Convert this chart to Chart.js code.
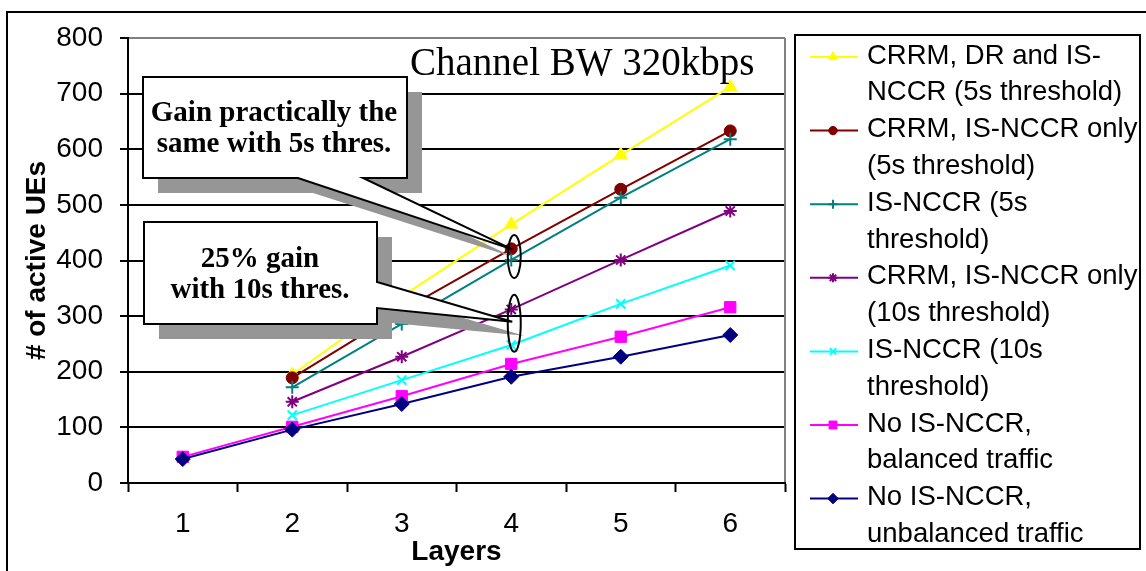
<!DOCTYPE html>
<html><head><meta charset="utf-8">
<script src="https://cdn.jsdelivr.net/npm/chart.js@4.4.1/dist/chart.umd.min.js"></script>
<style>html,body{margin:0;padding:0;background:#fff;}#wrap{width:1146px;height:571px;position:relative;}</style>
</head><body><div id="wrap"><canvas id="c" width="1146" height="571"></canvas></div>
<script>
// ---- data ----
const layers = ['1', '2', '3', '4', '5', '6'];
const crrmDrIsnccr5s   = [null, 195, 335, 465, 590, 712];
const crrmIsnccr5s     = [null, 189, 310, 421, 528, 633];
const isnccr5s         = [null, 172, 286, 401, 513, 618];
const crrmIsnccr10s    = [null, 146, 227, 312, 401, 489];
const isnccr10s        = [null, 122, 185, 248, 322, 391];
const noIsnccrBalanced   = [47, 101, 156, 214, 263, 316];
const noIsnccrUnbalanced = [43, 96, 142, 191, 227, 266];
const yMin = 0, yMax = 800, yStep = 100;
const legendLines = [
  ['CRRM, DR and IS-', 'NCCR (5s threshold)'],
  ['CRRM, IS-NCCR only', '(5s threshold)'],
  ['IS-NCCR (5s', 'threshold)'],
  ['CRRM, IS-NCCR only', '(10s threshold)'],
  ['IS-NCCR (10s', 'threshold)'],
  ['No IS-NCCR,', 'balanced traffic'],
  ['No IS-NCCR,', 'unbalanced traffic']
];
const chartTitle = 'Channel BW 320kbps';
const yTitle = '# of active UEs';
const xTitle = 'Layers';
const callout1Text = ['Gain practically the', 'same with 5s thres.'];
const callout2Text = ['25% gain', 'with 10s thres.'];
const callout1Target = 420, callout2Target = 290;   // values pointed at, layer 4
const ellipse1Center = 407, ellipse2Center = 287;

const SANS = "'Liberation Sans', Arial, sans-serif";
const SERIF = "'Liberation Serif', 'Times New Roman', serif";

function ds(label, data, color, style, radius, bw, order) {
  return { label, data, borderColor: color, backgroundColor: color,
    pointBackgroundColor: color, pointBorderColor: color,
    pointStyle: style, pointRadius: radius, pointBorderWidth: bw,
    borderWidth: 2, tension: 0, order, pointHoverRadius: radius };
}
const datasets = [
  ds(legendLines[0].join(' '), crrmDrIsnccr5s, '#FFFF00', 'triangle', 7.5, 1, 6),
  ds(legendLines[1].join(' '), crrmIsnccr5s, '#800000', 'circle', 6, 1, 5),
  ds(legendLines[2].join(' '), isnccr5s, '#008080', 'cross', 6.5, 2, 4),
  ds(legendLines[3].join(' '), crrmIsnccr10s, '#800080', 'star', 6.5, 2, 3),
  ds(legendLines[4].join(' '), isnccr10s, '#00FFFF', 'crossRot', 6.5, 2, 2),
  ds(legendLines[5].join(' '), noIsnccrBalanced, '#FF00FF', 'rect', 8, 1, 1),
  ds(legendLines[6].join(' '), noIsnccrUnbalanced, '#000080', 'rectRot', 7.5, 1, 0)
];

const decor = {
  id: 'decor',
  beforeDraw(chart) {
    const ctx = chart.ctx;
    ctx.save();
    ctx.fillStyle = '#fff';
    ctx.fillRect(0, 0, chart.width, chart.height);
    ctx.strokeStyle = '#000'; ctx.lineWidth = 2;
    ctx.strokeRect(7, 12, chart.width + 20, chart.height + 20);
    ctx.restore();
  },
  afterDraw(chart) {
    const ctx = chart.ctx, a = chart.chartArea;
    const xs = chart.scales.x, ys = chart.scales.y;
    ctx.save();
    // plot border right (gray)
    ctx.strokeStyle = '#808080'; ctx.lineWidth = 2;
    ctx.beginPath(); ctx.moveTo(a.right, a.top); ctx.lineTo(a.right, a.bottom - 1); ctx.stroke();

    // title
    ctx.fillStyle = '#000';
    ctx.font = '39px ' + SERIF;
    ctx.textAlign = 'left'; ctx.textBaseline = 'alphabetic';
    ctx.fillText(chartTitle, 410, 75);

    const px4 = xs.getPixelForValue(3);
    // callouts
    function callout(poly, shadowPoly, lines, cx, baselines) {
      ctx.fillStyle = '#969696';
      ctx.beginPath();
      shadowPoly.forEach((p, i) => i ? ctx.lineTo(p[0], p[1]) : ctx.moveTo(p[0], p[1]));
      ctx.closePath(); ctx.fill();
      ctx.fillStyle = '#fff'; ctx.strokeStyle = '#000'; ctx.lineWidth = 2; ctx.lineJoin = 'miter';
      ctx.beginPath();
      poly.forEach((p, i) => i ? ctx.lineTo(p[0], p[1]) : ctx.moveTo(p[0], p[1]));
      ctx.closePath(); ctx.fill(); ctx.stroke();
      ctx.fillStyle = '#000';
      ctx.font = 'bold 29px ' + SERIF;
      ctx.textAlign = 'center'; ctx.textBaseline = 'alphabetic';
      lines.forEach((t, i) => ctx.fillText(t, cx, baselines[i]));
    }
    const t1 = [px4 + 1, ys.getPixelForValue(callout1Target)];
    const b1 = {l: 143, t: 77, r: 407, b: 178, p1: 298, p2: 363};
    const poly1 = [[b1.l, b1.t], [b1.r, b1.t], [b1.r, b1.b], [b1.p2, b1.b], t1, [b1.p1, b1.b], [b1.l, b1.b]];
    const sh1 = [[b1.l + 15, b1.t + 15], [b1.r + 15, b1.t + 15], [b1.r + 15, b1.b + 15], [b1.p2 + 15, b1.b + 15], [t1[0] + 2, t1[1] + 8], [b1.p1 + 15, b1.b + 15], [b1.l + 15, b1.b + 15]];
    callout(poly1, sh1, callout1Text, 274, [121, 152]);

    const t2 = [px4 + 1, ys.getPixelForValue(callout2Target)];
    const b2 = {l: 144, t: 222, r: 377, b: 324, q1: 282, q2: 308};
    const poly2 = [[b2.l, b2.t], [b2.r, b2.t], [b2.r, b2.q1], t2, [b2.r, b2.q2], [b2.r, b2.b], [b2.l, b2.b]];
    const sh2 = [[b2.l + 15, b2.t + 15], [b2.r + 15, b2.t + 15], [b2.r + 15, b2.q1 + 15], [t2[0] + 12, t2[1] + 14], [b2.r + 15, b2.q2 + 15], [b2.r + 15, b2.b + 15], [b2.l + 15, b2.b + 15]];
    callout(poly2, sh2, callout2Text, 260, [267, 298]);

    // ellipses
    ctx.strokeStyle = '#000'; ctx.lineWidth = 2;
    ctx.beginPath(); ctx.ellipse(px4 + 3, ys.getPixelForValue(ellipse1Center), 6.5, 21.5, 0, 0, Math.PI * 2); ctx.stroke();
    ctx.beginPath(); ctx.ellipse(px4 + 3, ys.getPixelForValue(ellipse2Center), 6.5, 28.5, 0, 0, Math.PI * 2); ctx.stroke();

    // legend
    ctx.strokeStyle = '#000'; ctx.lineWidth = 2;
    ctx.strokeRect(795, 35, 345, 514);
    ctx.font = '27.5px ' + SANS;
    ctx.textAlign = 'left'; ctx.textBaseline = 'middle';
    const lh = 36.8;
    let row = 0;
    datasets.forEach((d, i) => {
      const y0 = 56 + row * lh;
      ctx.strokeStyle = d.borderColor; ctx.lineWidth = 2;
      ctx.beginPath(); ctx.moveTo(810, y0 + 1); ctx.lineTo(858, y0 + 1); ctx.stroke();
      ctx.fillStyle = d.borderColor; ctx.strokeStyle = d.borderColor;
      ctx.lineWidth = d.pointBorderWidth;
      Chart.helpers.drawPoint(ctx, {pointStyle: d.pointStyle, rotation: 0, radius: d.pointRadius * 0.7, borderWidth: d.pointBorderWidth}, 833, y0 + 1);
      ctx.fillStyle = '#000';
      legendLines[i].forEach((t, j) => { ctx.fillText(t, 867, y0 + j * lh); });
      row += legendLines[i].length;
    });
    ctx.restore();
  }
};

new Chart(document.getElementById('c'), {
  type: 'line',
  data: { labels: layers, datasets },
  options: {
    responsive: false, animation: false, devicePixelRatio: 1,
    layout: { padding: { left: 0, top: 38, right: 361, bottom: 0 } },
    plugins: { legend: { display: false }, tooltip: { enabled: false }, title: { display: false } },
    scales: {
      x: {
        type: 'category', offset: true,
        afterFit: (s) => { s.height = 88; },
        grid: { offset: true, drawOnChartArea: false, drawTicks: true, tickLength: 9, tickColor: '#000', tickWidth: 2 },
        border: { display: true, color: '#000', width: 2 },
        ticks: { color: '#000', font: { family: SANS, size: 28 }, padding: 15, maxRotation: 0 },
        title: { display: true, text: xTitle, color: '#000', font: { family: SANS, size: 28, weight: 'bold' }, padding: { top: 0, bottom: 2 } }
      },
      y: {
        min: yMin, max: yMax,
        afterFit: (s) => { s.width = 128; },
        grid: { color: (c) => (c.tick && c.tick.value === yMax ? '#808080' : '#000'), lineWidth: 2, tickLength: 8, tickColor: '#000', tickWidth: 2 },
        border: { display: true, color: '#000', width: 2 },
        ticks: { stepSize: yStep, color: '#000', font: { family: SANS, size: 28 }, padding: 17 },
        title: { display: true, text: yTitle, color: '#000', font: { family: SANS, size: 28, weight: 'bold' }, padding: { top: 20, bottom: 0 } }
      }
    }
  },
  plugins: [decor]
});
</script></body></html>
